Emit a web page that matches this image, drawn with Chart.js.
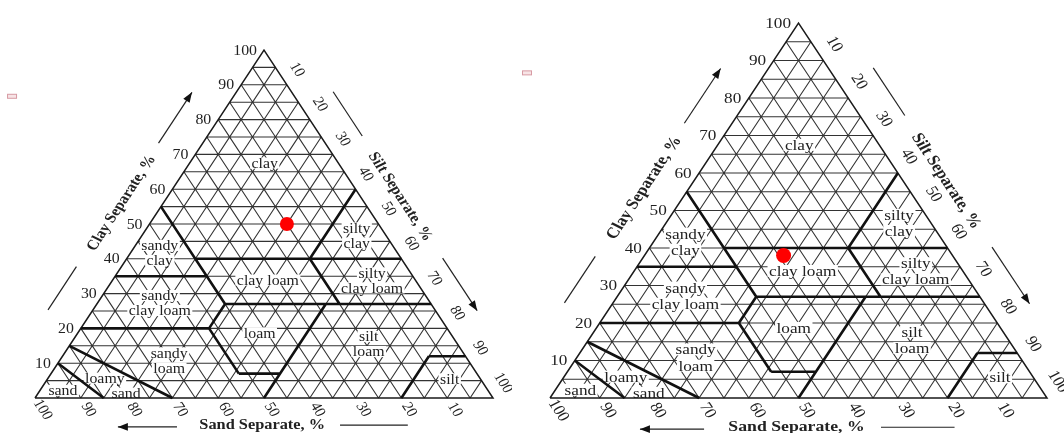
<!DOCTYPE html>
<html>
<head>
<meta charset="utf-8">
<script src="https://cdn.jsdelivr.net/npm/chart.js@4.4.0/dist/chart.umd.min.js"></script>
<style>
  body { margin: 0; background: #fff; }
  canvas { position: absolute; top: 0; }
</style>
</head>
<body>
<canvas id="left" width="512" height="433" style="left:0"></canvas>
<canvas id="right" width="552" height="433" style="left:512px"></canvas>
<script>
// every ternary point is [sand, silt, clay] in %
const tickValues = [10, 20, 30, 40, 50, 60, 70, 80, 90, 100];
const gridLevels = [5, 10, 15, 20, 25, 30, 35, 40, 45, 50, 55, 60, 65, 70, 75, 80, 85, 90, 95];

// USDA texture class borders
const classBoundaries = [
    [[45, 0, 55], [45, 28, 27]],
    [[65, 0, 35], [45, 20, 35]],
    [[45, 15, 40], [0, 60, 40]],
    [[20, 40, 40], [0, 40, 60]],
    [[20, 40, 40], [20, 53, 27]],
    [[45, 28, 27], [0, 73, 27]],
    [[45, 28, 27], [52, 28, 20]],
    [[80, 0, 20], [52, 28, 20]],
    [[52, 28, 20], [52, 41, 7]],
    [[52, 41, 7], [43, 50, 7]],
    [[50, 50, 0], [23, 50, 27]],
    [[20, 80, 0], [8, 80, 12]],
    [[8, 80, 12], [0, 88, 12]],
    [[85, 0, 15], [70, 30, 0]],
    [[90, 0, 10], [85, 15, 0]]
];

const classNames = ["clay", "silty\nclay", "sandy\nclay", "clay loam", "silty\nclay loam", "sandy\nclay loam",
    "loam", "silt\nloam", "sandy\nloam", "loamy", "sand", "sand", "silt"];
const classLabelAt = [
    [16.1, 16.4, 67.5], [6.4, 46.9, 46.7], [51.9, 6.4, 41.7], [32.2, 33.9, 33.9], [9.5, 56.7, 33.8],
    [59.1, 13.6, 27.3], [41.6, 39.7, 18.7], [19.4, 65.1, 15.5], [65.3, 23.9, 10.8], [81.9, 12.4, 5.7],
    [79.4, 19.2, 1.4], [92.8, 5.0, 2.2], [6.7, 87.8, 5.5]
];

const sampleLeft = [[20, 30, 50]];
const sampleRight = [[34, 28, 38]];

const TEXT = "#222";
const SERIF = '"Liberation Serif", "DejaVu Serif", serif';

function toXY(p) {
    return {x: p[1] + p[2] / 2, y: p[2]};
}

function segmentsData(segs) {
    const pts = [];
    segs.forEach(s => {
        s.forEach(p => pts.push(toXY(p)));
        pts.push({x: null, y: null});
    });
    return pts;
}

function gridSegments() {
    const segs = [];
    gridLevels.forEach(v => {
        segs.push([[100 - v, 0, v], [0, 100 - v, v]]);
        segs.push([[100 - v, v, 0], [0, v, 100 - v]]);
        segs.push([[v, 100 - v, 0], [v, 0, 100 - v]]);
    });
    return segs;
}

const outline = [[[100, 0, 0], [0, 100, 0], [0, 0, 100], [100, 0, 0]]];

function arrow(ctx, x1, y1, x2, y2, head) {
    ctx.beginPath();
    ctx.moveTo(x1, y1);
    ctx.lineTo(x2, y2);
    ctx.stroke();
    if (!head) return;
    const a = Math.atan2(y2 - y1, x2 - x1);
    ctx.beginPath();
    ctx.moveTo(x2, y2);
    ctx.lineTo(x2 - head * Math.cos(a) + head * 0.38 * Math.sin(a), y2 - head * Math.sin(a) - head * 0.38 * Math.cos(a));
    ctx.lineTo(x2 - head * Math.cos(a) - head * 0.38 * Math.sin(a), y2 - head * Math.sin(a) + head * 0.38 * Math.cos(a));
    ctx.closePath();
    ctx.fill();
}

const ternaryText = {
    id: "ternaryText",
    geom(chart) {
        const a = chart.chartArea;
        const H = a.bottom - a.top;
        const W = a.right - a.left;
        const pt = p => [chart.scales.x.getPixelForValue(p[1] + p[2] / 2), chart.scales.y.getPixelForValue(p[2])];
        return {H: H, sx: W / (H / Math.sin(Math.PI / 3)), fs: H * 0.04, pt: pt,
            bl: pt([100, 0, 0]), br: pt([0, 100, 0]), top: pt([0, 0, 100])};
    },
    text(ctx, g, str, x, y, deg, font, align) {
        ctx.save();
        ctx.translate(x, y);
        ctx.scale(g.sx, 1);
        ctx.rotate(deg * Math.PI / 180);
        ctx.font = font;
        ctx.textAlign = align;
        ctx.textBaseline = "middle";
        ctx.fillStyle = TEXT;
        ctx.fillText(str, 0, 0);
        ctx.restore();
    },
    afterDatasetDraw(chart, args) {
        if (args.index !== 0) return;
        const ctx = chart.ctx;
        const g = this.geom(chart);
        const font = g.fs + "px " + SERIF;
        const lh = g.H * 0.043;
        ctx.save();
        ctx.font = font;
        classNames.forEach((name, i) => {
            const c = g.pt(classLabelAt[i]);
            const lines = name.split("\n");
            lines.forEach((ln, j) => {
                const y = c[1] + (j - (lines.length - 1) / 2) * lh;
                const w = ctx.measureText(ln).width * g.sx;
                ctx.fillStyle = "#fff";
                ctx.fillRect(c[0] - w / 2 - 1.5, y - g.fs * 0.4, w + 3, g.fs * 0.8);
                this.text(ctx, g, ln, c[0], y + 1, 0, font, "center");
            });
        });
        ctx.restore();
    },
    afterDraw(chart) {
        const ctx = chart.ctx;
        const g = this.geom(chart);
        const H = g.H;
        const font = g.fs + "px " + SERIF;
        const bold = "bold " + (g.fs * 1.03) + "px " + SERIF;
        const unit = (p, q) => {
            const dx = q[0] - p[0], dy = q[1] - p[1], l = Math.hypot(dx, dy);
            return [dx / l, dy / l, l];
        };
        const eL = unit(g.bl, g.top);
        const eR = unit(g.br, g.top);
        const nL = [eL[1], -eL[0]];
        const nR = [-eR[1], eR[0]];
        const onL = (f, off) => [g.bl[0] + eL[0] * eL[2] * f + nL[0] * off, g.bl[1] + eL[1] * eL[2] * f + nL[1] * off];
        const onR = (f, off) => [g.br[0] + eR[0] * eR[2] * f + nR[0] * off, g.br[1] + eR[1] * eR[2] * f + nR[1] * off];
        const onB = (f, off) => [g.bl[0] + (g.br[0] - g.bl[0]) * f, g.bl[1] + off];

        ctx.save();
        tickValues.forEach(v => {
            const c = g.pt([100 - v, 0, v]);
            this.text(ctx, g, String(v), c[0] - H * 0.02, c[1] + 1, 0, font, "right");
            const s = g.pt([0, v, 100 - v]);
            this.text(ctx, g, String(v), s[0] + eL[0] * H * 0.052, s[1] + eL[1] * H * 0.052, 60, font, "center");
            const d = g.pt([v, 100 - v, 0]);
            this.text(ctx, g, String(v), d[0] - eR[0] * H * 0.04, d[1] - eR[1] * H * 0.04, 60, font, "center");
        });

        let p = onL(0.505, H * 0.1);
        this.text(ctx, g, "Clay Separate, %", p[0], p[1], -60, bold, "center");
        p = onR(0.526, H * 0.095);
        this.text(ctx, g, "Silt Separate, %", p[0], p[1], 60, bold, "center");
        p = onB(0.496, H * 0.078);
        this.text(ctx, g, "Sand Separate, %", p[0], p[1], 0, bold, "center");

        ctx.strokeStyle = "#222";
        ctx.fillStyle = "#111";
        ctx.lineWidth = 1.2;
        let a = onL(0.674, H * 0.106), b = onL(0.82, H * 0.106);
        arrow(ctx, a[0], a[1], b[0], b[1], 10);
        a = onL(0.194, H * 0.108); b = onL(0.318, H * 0.108);
        arrow(ctx, a[0], a[1], b[0], b[1], 0);
        a = onR(0.347, H * 0.1); b = onR(0.196, H * 0.1);
        arrow(ctx, a[0], a[1], b[0], b[1], 10);
        a = onR(0.825, H * 0.1); b = onR(0.698, H * 0.1);
        arrow(ctx, a[0], a[1], b[0], b[1], 0);
        a = onB(0.31, H * 0.083); b = onB(0.181, H * 0.083);
        arrow(ctx, a[0], a[1], b[0], b[1], 10);
        a = onB(0.666, H * 0.078); b = onB(0.814, H * 0.078);
        arrow(ctx, a[0], a[1], b[0], b[1], 0);

        // small stray marker left of the triangle
        const mx = g.top[0] - H * 0.724, my = g.top[1] + H * 0.133;
        ctx.fillStyle = "#f7e4e6";
        ctx.strokeStyle = "#d79aa3";
        ctx.lineWidth = 1;
        ctx.fillRect(mx - 4.5, my - 2, 9, 4);
        ctx.strokeRect(mx - 4.5, my - 2, 9, 4);
        ctx.restore();
    }
};

function makeChart(id, pad, samples, radius) {
    return new Chart(document.getElementById(id), {
        type: "scatter",
        data: {
            datasets: [
                {data: segmentsData(gridSegments()), showLine: true, borderColor: "#333", borderWidth: 1.1,
                    pointRadius: 0, clip: false, order: 4},
                {data: segmentsData(outline), showLine: true, borderColor: "#1a1a1a", borderWidth: 1.5,
                    pointRadius: 0, clip: false, order: 3},
                {data: segmentsData(classBoundaries), showLine: true, borderColor: "#111", borderWidth: 2.6,
                    pointRadius: 0, clip: false, order: 2},
                {data: samples.map(toXY), showLine: false, pointRadius: radius, pointBackgroundColor: "#ff0000",
                    pointBorderWidth: 0, clip: false, order: 1}
            ]
        },
        options: {
            responsive: false,
            animation: false,
            devicePixelRatio: 1,
            events: [],
            layout: {padding: pad},
            plugins: {legend: {display: false}, tooltip: {enabled: false}},
            scales: {
                x: {type: "linear", min: 0, max: 100, display: false},
                y: {type: "linear", min: 0, max: 100, display: false}
            }
        },
        plugins: [ternaryText]
    });
}

makeChart("left", {left: 35, right: 19, top: 50, bottom: 35}, sampleLeft, 7);
makeChart("right", {left: 38, right: 17, top: 23, bottom: 35}, sampleRight, 7.5);
</script>
</body>
</html>
